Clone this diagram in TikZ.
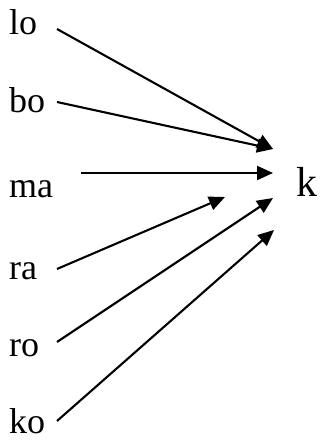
\documentclass[tikz,border=0pt]{standalone}
\usepackage{fontspec}
\setmainfont{Liberation Serif}
\usetikzlibrary{arrows.meta}
\begin{document}
\begin{tikzpicture}[x=1pt,y=1pt,
  lbl/.style={anchor=base west,inner sep=0pt,font=\fontsize{36}{38}\selectfont},
  tgt/.style={anchor=base west,inner sep=0pt,font=\fontsize{42}{44}\selectfont},
  arr/.style={line width=2.1pt,-{Triangle[length=16pt,width=14pt]}}]
\useasboundingbox (0,0) rectangle (321,441);
\node[lbl] (lo) at (9,406) {lo};
\node[lbl] (bo) at (9,328) {bo};
\node[lbl] (ma) at (9,243) {ma};
\node[lbl] (ra) at (9,161) {ra};
\node[lbl] (ro) at (9,84) {ro};
\node[lbl] (ko) at (9,8) {ko};
\node[tgt] (k) at (296,244) {k};
\coordinate (lot) at (57,412);
\coordinate (bot) at (57,339);
\coordinate (mat) at (81,268);
\coordinate (rat) at (57,172);
\coordinate (rot) at (57,99);
\coordinate (kot) at (57,20);
\coordinate (h1) at (273,292);
\coordinate (h2) at (273,268);
\coordinate (h3) at (225,244);
\coordinate (h4) at (273,243);
\coordinate (h5) at (274,211);
\draw[arr] (lot) -- (h1);
\draw[arr] (bot) -- (h1);
\draw[arr] (mat) -- (h2);
\draw[arr] (rat) -- (h3);
\draw[arr] (rot) -- (h4);
\draw[arr] (kot) -- (h5);
\end{tikzpicture}
\end{document}
